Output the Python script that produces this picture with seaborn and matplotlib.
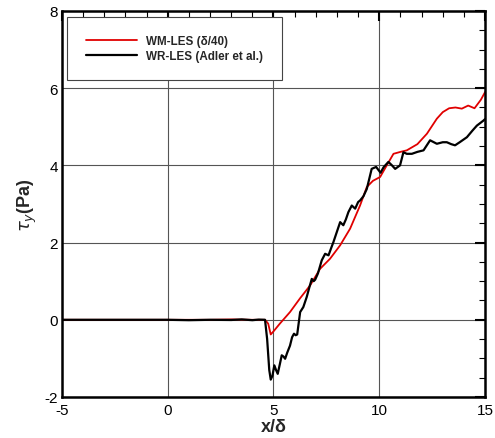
import matplotlib
matplotlib.use("Agg")
import matplotlib.pyplot as plt
from matplotlib.ticker import MultipleLocator
import seaborn as sns
import pandas as pd

wm_x = [-5, -2, 0, 2, 3, 4, 4.6, 4.75, 4.87, 5.0, 5.3, 5.78, 6.26, 6.73, 7.2, 7.67,
        8.15, 8.62, 9.09, 9.41, 9.7, 10.04, 10.3, 10.67, 11.0, 11.3, 11.8, 12.25,
        12.72, 13.0, 13.3, 13.6, 13.9, 14.2, 14.5, 14.8, 15.0]
wm_y = [0, 0, 0, 0, 0.01, 0, 0, -0.1, -0.38, -0.3, -0.1, 0.2, 0.56, 0.89, 1.32, 1.58,
        1.93, 2.36, 2.96, 3.44, 3.6, 3.70, 3.95, 4.30, 4.35, 4.39, 4.55, 4.82,
        5.21, 5.38, 5.48, 5.5, 5.47, 5.55, 5.48, 5.7, 5.9]

wr_x = [-5, -3, -1, 0, 1, 2, 3, 3.5, 4, 4.3, 4.6, 4.7, 4.8, 4.87, 4.95, 5.04, 5.12,
        5.2, 5.3, 5.39, 5.47, 5.55, 5.65, 5.78, 5.88, 5.97, 6.05, 6.12, 6.26, 6.41,
        6.57, 6.7, 6.81, 6.9, 6.97, 7.1, 7.28, 7.44, 7.6, 7.72, 7.83, 7.99, 8.15,
        8.3, 8.42, 8.54, 8.7, 8.86, 9.0, 9.09, 9.25, 9.41, 9.64, 9.85, 10.06, 10.2,
        10.43, 10.6, 10.75, 10.98, 11.14, 11.3, 11.54, 11.8, 12.09, 12.4, 12.72,
        13.0, 13.19, 13.4, 13.58, 13.8, 14.14, 14.4, 14.61, 14.92, 15]
wr_y = [0, 0, 0, 0, -0.01, 0, -0.005, 0.01, -0.01, 0.005, 0, -0.5, -1.3, -1.55, -1.45,
        -1.18, -1.3, -1.4, -1.15, -0.92, -0.95, -1.01, -0.85, -0.67, -0.45, -0.36,
        -0.4, -0.38, 0.2, 0.33, 0.59, 0.85, 1.06, 1.0, 1.04, 1.2, 1.54, 1.71, 1.67,
        1.85, 2.01, 2.27, 2.53, 2.45, 2.6, 2.79, 2.96, 2.88, 3.05, 3.09, 3.2, 3.39,
        3.91, 3.96, 3.81, 3.95, 4.09, 4.0, 3.91, 4.0, 4.34, 4.3, 4.3, 4.35, 4.39,
        4.65, 4.56, 4.6, 4.6, 4.55, 4.52, 4.6, 4.73, 4.9, 5.03, 5.16, 5.2]

labels = ["WM-LES (\u03b4/40)", "WR-LES (Adler et al.)"]

sns.set_theme(style="white")
plt.rcParams['font.family'] = ['Liberation Sans', 'DejaVu Sans']
plt.rcParams['axes.unicode_minus'] = False
plt.rcParams['mathtext.fontset'] = 'custom'
plt.rcParams['mathtext.rm'] = 'Liberation Sans:bold'
plt.rcParams['mathtext.it'] = 'DejaVu Sans:italic'

df_wm = pd.DataFrame({"x": wm_x, "y": wm_y})
df_wr = pd.DataFrame({"x": wr_x, "y": wr_y})

fig = plt.figure(figsize=(4.95, 4.39), dpi=100)
ax = fig.add_axes([0.125, 0.0934, 0.855, 0.8793])

sns.lineplot(data=df_wm, x="x", y="y", ax=ax, color="#e00000", lw=1.3,
             label=labels[0], sort=False, estimator=None,
             solid_joinstyle="round")
sns.lineplot(data=df_wr, x="x", y="y", ax=ax, color="black", lw=1.6,
             label=labels[1], sort=False, estimator=None,
             solid_joinstyle="round")

ax.set_xlim(-5, 15)
ax.set_ylim(-2, 8)
ax.xaxis.set_major_locator(MultipleLocator(5))
ax.xaxis.set_minor_locator(MultipleLocator(1))
ax.yaxis.set_major_locator(MultipleLocator(2))
ax.yaxis.set_minor_locator(MultipleLocator(0.5))
ax.grid(True, which="major", color="#555555", lw=0.8)
ax.tick_params(which="both", direction="in", top=True, right=True,
               labelsize=11, colors="black")
ax.tick_params(axis="x", pad=4)
ax.tick_params(axis="y", pad=3)
ax.tick_params(which="major", length=7, width=1.5)
ax.tick_params(which="minor", length=4, width=0.8)
for s in ax.spines.values():
    s.set_color("black")
    s.set_linewidth(1.8)

ax.set_xlabel("x/\u03b4", fontsize=13, fontweight="bold", labelpad=1)
ax.set_ylabel(r"$\tau_y$(Pa)", fontsize=13, fontweight="bold", labelpad=4)

leg = ax.legend(loc="upper left", bbox_to_anchor=(0.012, 0.985), frameon=True,
                fancybox=False, edgecolor="#444444", framealpha=1,
                prop={"weight": "bold", "size": 8.4}, handlelength=4.4,
                borderpad=1.6, labelspacing=0.2, borderaxespad=0,
                handletextpad=0.77)
leg.get_frame().set_linewidth(0.8)

fig.savefig("out.png", dpi=100)
